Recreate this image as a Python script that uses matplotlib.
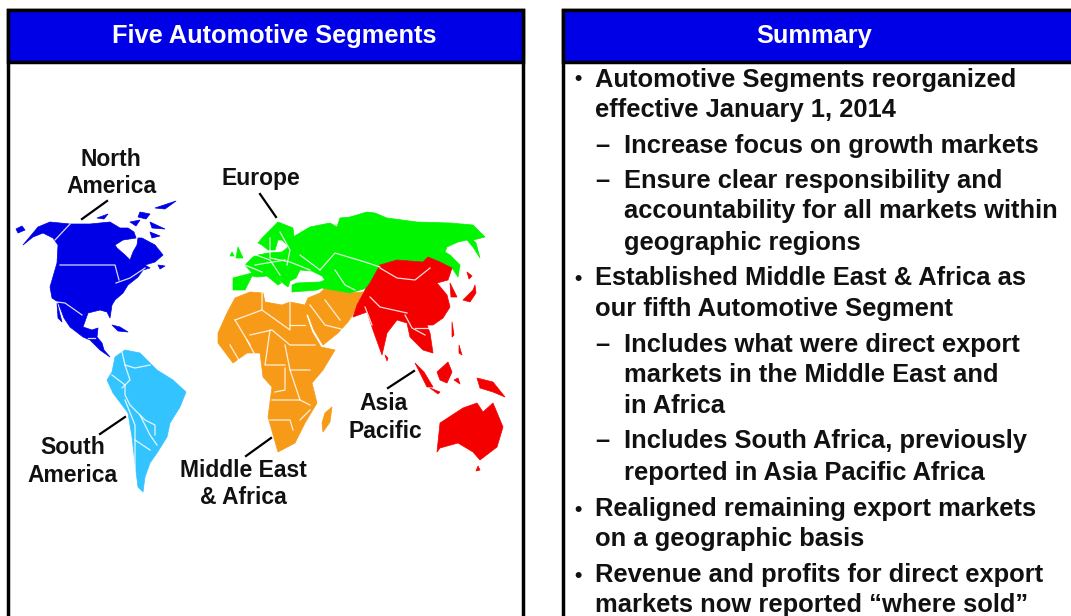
import matplotlib
matplotlib.use('Agg')
import matplotlib.pyplot as plt
from matplotlib.patches import Polygon, Rectangle

plt.rcParams['font.family'] = ['Liberation Sans', 'DejaVu Sans']

BLUE = '#0000e6'
SKY = '#33c4ff'
GREEN = '#00f500'
ORANGE = '#f79a17'
RED = '#f50000'

# Region outlines in pixels
north_america = [(23,245),(33,237),(43,233),(53,238),(58,245),(57,263),(50,287),(52,298),(58,302),(64,318),(70,327),(83,337),(90,340),
                 (100,350),(110,357),(104,350),(102,343),(97,337),(98,328),(92,330),(83,327),(88,313),(100,310),(107,312),(110,318),(112,305),(115,300),(123,293),
                 (128,285),(138,277),(143,270),(150,268),(145,265),(155,262),(163,255),(155,245),(142,238),(138,238),(137,245),(133,252),(130,260),(125,255),(117,248),
                 (115,245),(123,240),(136,238),(134,232),(128,228),(120,228),(110,222),(90,224),(70,224),(50,222),(38,227)]
na_islands = [[(16,229),(22,226),(25,230),(18,233)], [(97,218),(108,214),(104,219)], [(130,222),(140,220),(136,226)], [(140,212),(150,214),(146,219),(138,217)],
              [(150,222),(165,229),(152,228)], [(155,208),(176,201),(165,209)], [(150,232),(160,236),(152,238)], [(158,265),(165,266),(160,269)],
              [(112,325),(120,327),(128,332),(118,331)], [(57,303),(62,322),(58,318)]]
south_america = [(115,357),(125,350),(140,353),(157,370),(173,380),(186,392),(180,407),(170,423),(167,437),(157,453),(150,463),(145,477),(143,492),
                 (138,487),(135,463),(132,437),(128,413),(113,393),(107,380),(112,372)]
africa_me = [(218,333),(227,313),(235,298),(250,292),(263,293),(265,302),(282,305),(290,302),(305,305),(308,298),(320,293),(325,288),(347,293),(363,292),
             (357,305),(352,316),(348,322),(338,333),(323,345),(314,330),(308,314),(306,315),(312,332),(321,347),(335,350),(323,370),(312,383),(317,403),
             (305,423),(295,443),(278,452),(268,417),(272,387),(263,377),(260,353),(247,353),(233,363),(218,343)]
madagascar = [(332,407),(330,422),(323,432),(322,423),(325,413)]
eurasia_n = [(233,278),(233,290),(245,290),(252,276),(257,277),(267,276),(278,285),(281,283),(275,277),(288,287),(290,281),(296,278),(300,270),(312,271),(322,276),(325,280),
             (320,282),(297,283),(292,285),(292,292),(317,290),(322,288),(350,293),(367,288),(370,283),(380,267),(397,260),(423,262),(428,257),(440,262),(452,268),(458,277),
             (460,265),(450,255),(445,252),(447,247),(458,242),(467,240),(473,247),(480,258),(476,243),(473,240),(485,237),(473,225),(450,223),(417,222),(387,218),(375,213),(367,212),(350,217),
             (340,218),(337,227),(330,223),(310,227),(293,237),(287,248),(282,252),(268,253),(258,255),(253,257),(245,265),(252,273)]
scandinavia = [(258,243),(263,237),(278,222),(293,228),(294,238),(288,246),(282,240),(278,240),(275,250),(268,250),(262,245)]
uk = [[(238,247),(243,258),(236,258)], [(232,252),(234,256),(230,256)]]
asia = [(380,265),(397,260),(423,262),(428,257),(440,262),(452,268),(448,280),(437,283),(447,295),(450,307),(443,318),(433,325),(427,325),(430,333),(433,353),
        (423,350),(410,337),(407,323),(397,320),(387,333),(382,355),(373,330),(367,312),(353,317),(357,305),(365,290),(370,283)]
korea = [(450,283),(457,297),(451,297)]
australia = [(437,452),(440,423),(463,408),(477,403),(483,412),(493,403),(503,427),(497,447),(480,460),(473,452),(458,443),(440,448)]
asia_islands = [[(477,378),(493,382),(505,397),(493,392),(480,388)], [(437,372),(448,362),(452,372),(447,383),(440,380)], [(415,363),(424,372),(433,387),(427,387)],
                [(430,388),(440,392),(438,394)], [(463,300),(473,290),(475,285),(476,293),(470,302)], [(467,272),(472,276),(469,279)], [(454,380),(458,378),(460,384)],
                [(385,355),(388,358),(387,361)], [(478,466),(480,470),(476,471)], [(452,322),(454,335),(452,337)], [(459,345),(462,355),(459,353)]]

# White country borders
na_borders = [[(70,224),(55,240)], [(60,265),(115,265),(119,280)], [(116,283),(130,278),(145,268)], [(57,302),(65,303),(75,310),(82,315)], [(88,338),(95,338)]]
sa_borders = [[(122,352),(125,365),(135,368),(150,365)], [(112,375),(125,385),(125,395),(130,405),(140,415),(150,435),(157,445)], [(125,400),(135,425),(135,470)],
              [(140,415),(145,420),(155,425),(155,435)], [(125,365),(130,380),(122,388)], [(135,440),(150,450)]]
af_borders = [[(262,293),(262,310),(235,320)], [(262,310),(290,330),(290,302)], [(290,325),(305,325)], [(235,320),(250,345)], [(250,335),(272,330),(290,345),(315,345)],
              [(270,330),(265,365),(285,365)], [(285,345),(290,370),(310,370)], [(285,368),(285,390),(275,392)], [(272,400),(300,400),(310,405)], [(270,420),(290,420),(293,430)],
              [(290,370),(300,400)], [(310,305),(325,325),(345,330)], [(325,300),(340,320)], [(230,345),(240,362)], [(247,340),(255,355)], [(300,420),(310,410)]]
eu_borders = [[(245,265),(262,272)], [(256,255),(270,260),(280,275)], [(270,238),(270,258),(290,262),(310,270)], [(280,232),(290,250),(287,265)], [(320,270),(335,253),(365,262),(380,267)],
              [(335,270),(345,285),(355,290)], [(255,265),(285,260)], [(300,255),(320,270)]]
as_borders = [[(380,268),(397,278),(415,280),(430,268)], [(370,297),(380,307),(407,313)], [(365,307),(372,325)], [(405,315),(412,328),(425,335)], [(415,328),(430,328)]]

callout_lines = [[(82,219),(107,201)], [(276,217),(260,194)], [(100,434),(125,417)], [(246,456),(271,438)], [(388,388),(414,371)]]

map_labels = ['North', 'America', 'Europe', 'South', 'America', 'Middle East', '& Africa', 'Asia', 'Pacific']
map_label_x = [111, 111, 261, 73, 72, 243, 243, 384, 385]
map_label_y = [166, 193, 185, 454, 482, 477, 504, 410, 438]

summary_lines = ['Automotive Segments reorganized', 'effective January 1, 2014', 'Increase focus on growth markets',
                 'Ensure clear responsibility and', 'accountability for all markets within', 'geographic regions',
                 'Established Middle East & Africa as', 'our fifth Automotive Segment', 'Includes what were direct export',
                 'markets in the Middle East and', 'in Africa', 'Includes South Africa, previously', 'reported in Asia Pacific Africa',
                 'Realigned remaining export markets', 'on a geographic basis', 'Revenue and profits for direct export',
                 'markets now reported \u201cwhere sold\u201d']
summary_x = [595, 595, 624, 624, 624, 624, 595, 595, 624, 624, 624, 624, 624, 595, 595, 595, 595]
summary_y = [87, 117, 153, 188, 218, 250, 285, 316, 352, 382, 413, 448, 480, 516, 546, 582, 612]
bullet_y = [85, 285, 516, 582]
dash_y = [153, 188, 352, 448]

fig = plt.figure(figsize=(10.71, 6.16), dpi=100)
ax = fig.add_axes([0, 0, 1, 1])
ax.set_xlim(0, 1071)
ax.set_ylim(616, 0)
ax.axis('off')


def panel(x0, x1, title, cx):
    # white box, then blue title band on top
    ax.add_patch(Rectangle((x0, 10), x1 - x0, 640, fc='white', ec='black', lw=2.5, zorder=1))
    ax.add_patch(Rectangle((x0, 10), x1 - x0, 52, fc=BLUE, ec='black', lw=2.5, zorder=2))
    ax.text(cx, 43, title, color='white', fontsize=18.3, fontweight='bold', ha='center', va='baseline', zorder=3)


def land(shape, color):
    ax.add_patch(Polygon(shape, closed=True, fc=color, ec=color, lw=0.5, joinstyle='round', zorder=3))


def borders(lines):
    for line in lines:
        ax.plot([p[0] for p in line], [p[1] for p in line], color='white', lw=0.9, alpha=0.85, zorder=4)


panel(8, 523, 'Five Automotive Segments', 274.5)
panel(563, 1100, 'Summary', 814)

land(north_america, BLUE)
for s in na_islands:
    land(s, BLUE)
land(south_america, SKY)
land(africa_me, ORANGE)
land(madagascar, ORANGE)
land(eurasia_n, GREEN)
land(scandinavia, GREEN)
for s in uk:
    land(s, GREEN)
land(asia, RED)
land(korea, RED)
land(australia, RED)
for s in asia_islands:
    land(s, RED)

for group in [na_borders, sa_borders, af_borders, eu_borders, as_borders]:
    borders(group)

for line in callout_lines:
    ax.plot([line[0][0], line[1][0]], [line[0][1], line[1][1]], color='black', lw=1.6, zorder=5)

for t, x, y in zip(map_labels, map_label_x, map_label_y):
    ax.text(x, y, t, color='#111111', fontsize=16.5, fontweight='bold', ha='center', va='baseline', zorder=6)

for t, x, y in zip(summary_lines, summary_x, summary_y):
    ax.text(x, y, t, color='#111111', fontsize=18.4, fontweight='bold', ha='left', va='baseline', zorder=6)
for y in bullet_y:
    ax.text(574, y, '\u2022', color='#111111', fontsize=15, fontweight='bold', ha='left', va='baseline', zorder=6)
for y in dash_y:
    ax.text(595, y, '\u2013', color='#111111', fontsize=18.4, fontweight='bold', ha='left', va='baseline', zorder=6)

fig.savefig('out.png', dpi=100)
